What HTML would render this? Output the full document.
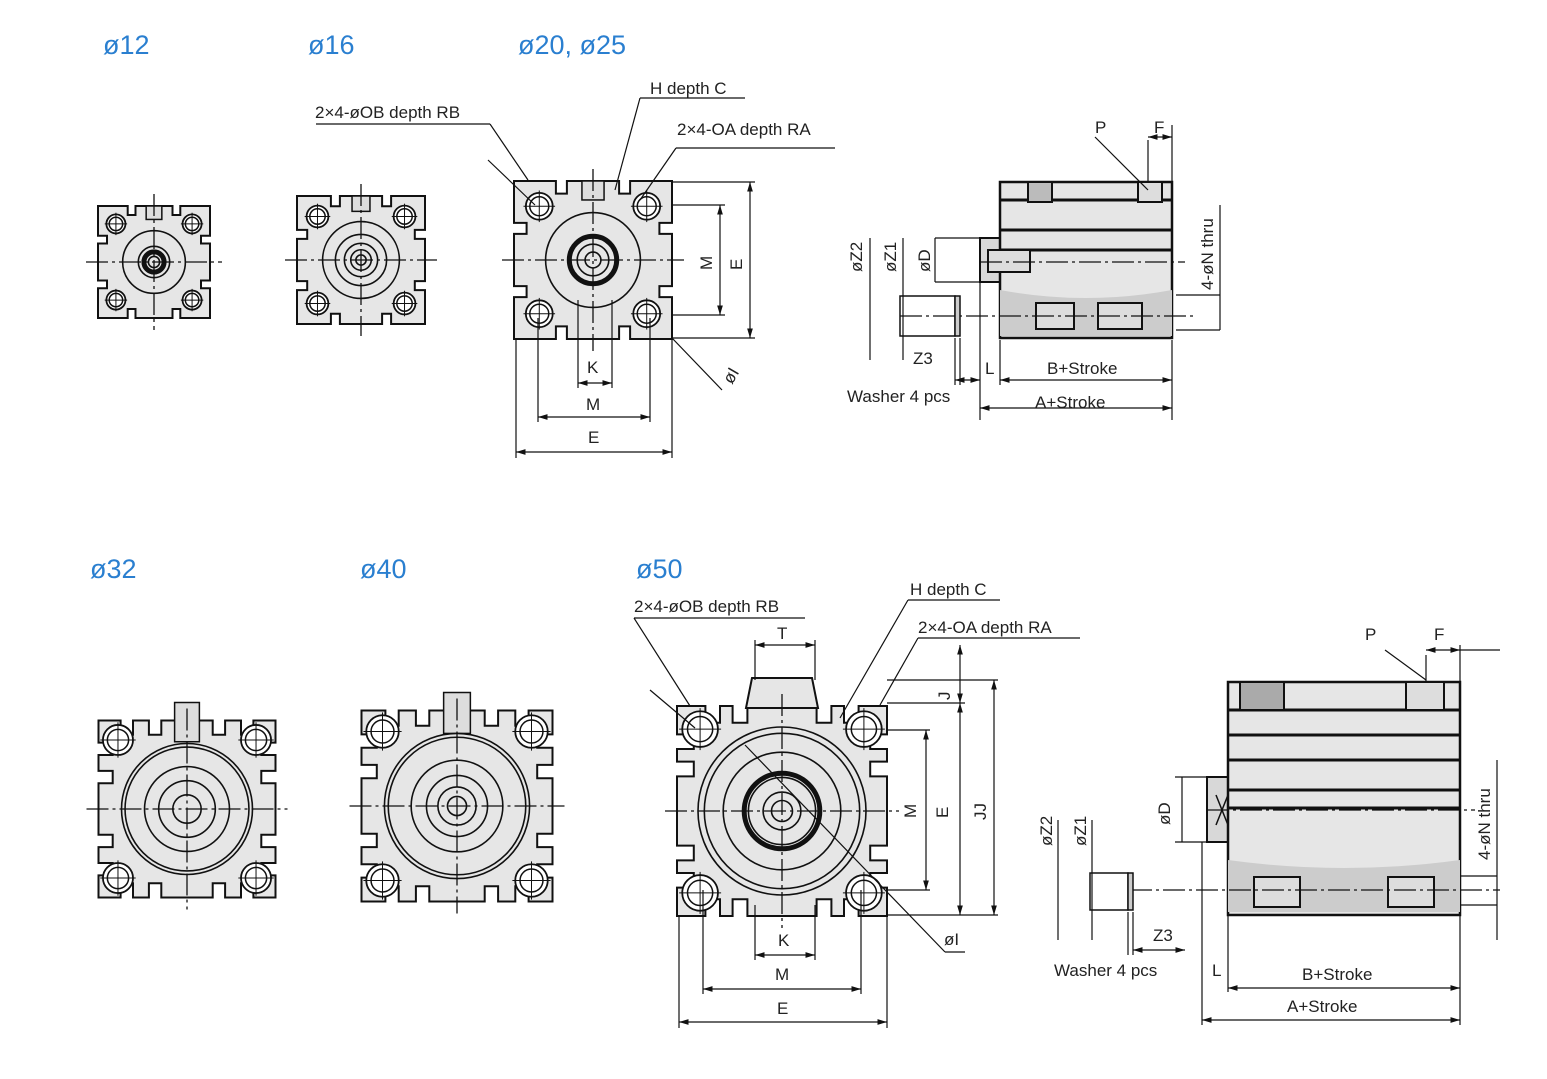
<!DOCTYPE html>
<html><head><meta charset="utf-8">
<style>
html,body{margin:0;padding:0;background:#fff;}
svg{display:block;}
text{font-family:"Liberation Sans",Arial,sans-serif;fill:#222;}
.h{fill:#2a7fd0;font-size:27px;}
.l{font-size:17px;}
</style></head><body>
<svg id="s" width="1547" height="1079" viewBox="0 0 1547 1079" xmlns="http://www.w3.org/2000/svg">
<defs>
<marker id="a" viewBox="0 0 10 10" refX="10" refY="5" markerWidth="8" markerHeight="8" orient="auto-start-reverse"><path d="M0,2 L10,5 L0,8z" fill="#111"/></marker>
</defs>
<g id="g"></g>
<text class="h" x="103" y="54">ø12</text>
<text class="h" x="308" y="54">ø16</text>
<text class="h" x="518" y="54">ø20, ø25</text>
<text class="h" x="90" y="578">ø32</text>
<text class="h" x="360" y="578">ø40</text>
<text class="h" x="636" y="578">ø50</text>
<text class="l" x="315" y="118">2×4-øOB depth RB</text>
<text class="l" x="650" y="94">H depth C</text>
<text class="l" x="677" y="135">2×4-OA depth RA</text>
<text class="l" x="587" y="373">K</text>
<text class="l" x="586" y="410">M</text>
<text class="l" x="588" y="443">E</text>
<text class="l" x="1095" y="133">P</text>
<text class="l" x="1154" y="133">F</text>
<text class="l" x="1047" y="374">B+Stroke</text>
<text class="l" x="1035" y="408">A+Stroke</text>
<text class="l" x="847" y="402">Washer 4 pcs</text>
<text class="l" x="913" y="364">Z3</text>
<text class="l" x="985" y="374">L</text>
<text class="l" x="634" y="612">2×4-øOB depth RB</text>
<text class="l" x="910" y="595">H depth C</text>
<text class="l" x="918" y="633">2×4-OA depth RA</text>
<text class="l" x="777" y="639">T</text>
<text class="l" x="778" y="946">K</text>
<text class="l" x="775" y="980">M</text>
<text class="l" x="777" y="1014">E</text>
<text class="l" x="944" y="945">øI</text>
<text class="l" x="1365" y="640">P</text>
<text class="l" x="1434" y="640">F</text>
<text class="l" x="1302" y="980">B+Stroke</text>
<text class="l" x="1287" y="1012">A+Stroke</text>
<text class="l" x="1054" y="976">Washer 4 pcs</text>
<text class="l" x="1153" y="941">Z3</text>
<text class="l" x="1212" y="976">L</text>
<g class="l" font-size="16">
<text transform="translate(712,270) rotate(-90)">M</text>
<text transform="translate(742,270) rotate(-90)">E</text>
<text transform="translate(732,385) rotate(-60)">øI</text>
<text transform="translate(862,272) rotate(-90)">øZ2</text>
<text transform="translate(896,272) rotate(-90)">øZ1</text>
<text transform="translate(930,272) rotate(-90)">øD</text>
<text transform="translate(1213,290) rotate(-90)">4-øN thru</text>
<text transform="translate(916,818) rotate(-90)">M</text>
<text transform="translate(948,818) rotate(-90)">E</text>
<text transform="translate(986,820) rotate(-90)">JJ</text>
<text transform="translate(950,700) rotate(-90)">J</text>
<text transform="translate(1052,846) rotate(-90)">øZ2</text>
<text transform="translate(1086,846) rotate(-90)">øZ1</text>
<text transform="translate(1170,825) rotate(-90)">øD</text>
<text transform="translate(1490,860) rotate(-90)">4-øN thru</text>
</g>
</svg>
<script>
const g=document.getElementById('g');let o='';
const L=(x1,y1,x2,y2,w,extra)=>{o+=`<line x1="${x1}" y1="${y1}" x2="${x2}" y2="${y2}" stroke="#111" stroke-width="${w||1.2}" ${extra||''}/>`};
const C=(x,y,r,f,w)=>{o+=`<circle cx="${x}" cy="${y}" r="${r}" fill="${f||'none'}" stroke="#111" stroke-width="${w||1.5}"/>`};
const R=(x,y,W,H,f,w)=>{o+=`<rect x="${x}" y="${y}" width="${W}" height="${H}" fill="${f||'none'}" stroke="#111" stroke-width="${w||1.5}"/>`};
const D=(x1,y1,x2,y2)=>{o+=`<line x1="${x1}" y1="${y1}" x2="${x2}" y2="${y2}" stroke="#111" stroke-width="1.2" marker-start="url(#a)" marker-end="url(#a)"/>`};
const CL=(x1,y1,x2,y2)=>L(x1,y1,x2,y2,1.3,'stroke-dasharray="22,4,3,4"');
function ev(cx,cy,S,opt){
 opt=opt||{};const h=S/2,n=opt.n||[0.2],w=0.07*S,d=0.08*S;
 let pts=[[-h,-h]];
 n.slice().sort((a,b)=>a-b);
 const offs=[];n.forEach(v=>{offs.push(-v);offs.push(v)});offs.sort((a,b)=>a-b);
 offs.forEach(v=>{const c=v*S;pts.push([c-w/2,-h],[c-w/2,-h+d],[c+w/2,-h+d],[c+w/2,-h]);});
 let all=[];
 for(let k=0;k<4;k++){pts.forEach(p=>{let [x,y]=p;for(let j=0;j<k;j++){[x,y]=[-y,x];}all.push([x,y]);});}
 o+=`<path d="M${all.map(p=>(cx+p[0]).toFixed(1)+','+(cy+p[1]).toFixed(1)).join(' L')}Z" fill="#e6e6e6" stroke="#111" stroke-width="2"/>`;
 if(opt.boss){const b=opt.boss;o+=`<path d="M${cx-b[0]},${cy-h+2} L${cx-b[0]+6},${cy-h-b[1]} L${cx+b[0]-6},${cy-h-b[1]} L${cx+b[0]},${cy-h+2}Z" fill="#e6e6e6" stroke="#111" stroke-width="2"/>`;}
 if(opt.port){R(cx-S*0.07,cy-h-(opt.portUp||0),S*0.14,S*0.12+(opt.portUp||0),'#ddd',1.5);}
 const c=opt.corner||0.34;
 [[-1,-1],[1,-1],[-1,1],[1,1]].forEach(([sx,sy])=>{const x=cx+sx*c*S,y=cy+sy*c*S;C(x,y,S*0.085,'#fff',1.8);C(x,y,S*0.06,'#fff',1.5);L(x-S*0.1,y,x+S*0.1,y,1);L(x,y-S*0.1,x,y+S*0.1,1);});
 (opt.rings||[0.3,0.2,0.12,0.06]).forEach((r,i)=>C(cx,cy,r*S,i==0?'#e6e6e6':'none',opt.bold==i?5:1.6));
 CL(cx-h-12,cy,cx+h+12,cy);CL(cx,cy-h-12,cx,cy+h+12);
}
// row 1
ev(154,262,112,{port:1,rings:[0.28,0.14,0.09,0.05],bold:2});
ev(361,260,128,{port:1,rings:[0.3,0.2,0.13,0.08,0.04]});
ev(593,260,158,{port:1,portUp:0,rings:[0.3,0.15,0.1,0.05],bold:1});
// row 2
ev(187,809,177,{n:[0.18,0.34],corner:0.39,port:1,portUp:18,rings:[0.37,0.35,0.24,0.16,0.08]});
ev(457,806,191,{n:[0.18,0.34],corner:0.39,port:1,portUp:18,rings:[0.38,0.36,0.24,0.16,0.1,0.05]});
ev(782,811,210,{n:[0.2,0.33],corner:0.39,boss:[36,28],rings:[0.4,0.37,0.28,0.18,0.16,0.09,0.05],bold:3});
// side view 1
R(980,238,20,44,'#d8d8d8',2);
o+=`<rect x="1000" y="182" width="172" height="156" fill="#e6e6e6" stroke="#111" stroke-width="2.5"/>`;
[200,230,250].forEach(y=>L(1000,y,1172,y,3,'stroke="#bbb"'));
o+=`<path d="M1000,290 Q1086,306 1172,290 L1172,336 L1000,336Z" fill="#ccc"/>`;
R(1036,303,38,26,'#ddd',2);R(1098,303,44,26,'#ddd',2);
R(1028,182,24,20,'#bbb',2);R(1138,182,24,20,'#ddd',2);
R(988,250,42,22,'#ddd',2);
CL(980,262,1185,262);CL(900,316,1195,316);
R(900,296,55,40,'none',1.5);R(955,296,5,40,'#ccc',1.5);
L(1172,125,1172,182);L(1148,140,1148,182);D(1148,137,1172,137);L(1095,137,1148,190);
D(980,408,1172,408);D(1000,380,1172,380);L(980,282,980,420);L(1172,340,1172,420);L(1000,340,1000,385);
L(1220,205,1220,330);L(1176,295,1220,295);L(1176,330,1220,330);
L(870,238,870,360);L(903,238,903,360);L(935,238,935,282);L(935,238,980,238);L(935,282,980,282);
L(955,338,955,385);L(960,338,960,385);D(955,380,980,380);
// dims ø20
D(720,205,720,315);D(750,182,750,338);L(672,182,755,182);L(672,338,755,338);L(672,205,725,205);L(672,315,725,315);
D(538,417,650,417);D(516,452,672,452);D(578,383,612,383);
L(516,340,516,458);L(672,340,672,458);L(538,318,538,422);L(650,318,650,422);L(578,300,578,388);L(612,300,612,388);
L(488,160,535,205);L(676,148,835,148);L(676,148,640,200);L(640,98,745,98);L(640,98,615,190);L(316,124,490,124);L(490,124,528,180);L(672,338,722,390);
// side view 2
R(1207,777,21,65,'#d8d8d8',2);
o+=`<rect x="1228" y="682" width="232" height="233" fill="#e6e6e6" stroke="#111" stroke-width="2.5"/>`;
[710,735,760,790,808].forEach(y=>L(1228,y,1460,y,3,'stroke="#bbb"'));
o+=`<path d="M1228,860 Q1344,876 1460,860 L1460,912 L1228,912Z" fill="#ccc"/>`;
R(1254,877,46,30,'#ddd',2);R(1388,877,46,30,'#ddd',2);
R(1240,682,44,28,'#aaa',2);R(1406,682,38,28,'#ddd',2);
L(1216,795,1228,825,1.5);L(1228,795,1216,825,1.5);
CL(1207,810,1475,810);CL(1130,890,1500,890);
R(1090,873,38,37,'none',1.5);R(1128,873,5,37,'#ccc',1.5);
L(1460,645,1460,682);L(1426,655,1426,682);D(1426,650,1460,650);L(1385,650,1426,680);L(1460,650,1500,650);
D(1202,1020,1460,1020);D(1228,988,1460,988);L(1202,842,1202,1025);L(1460,915,1460,1025);L(1228,915,1228,992);
L(1497,760,1497,940);L(1460,876,1497,876);L(1460,905,1497,905);
L(1058,820,1058,940);L(1092,820,1092,940);L(1182,777,1182,842);L(1175,777,1207,777);L(1175,842,1207,842);
L(1128,912,1128,955);L(1133,912,1133,955);D(1133,950,1185,950);
// dims ø50
D(926,730,926,890);D(960,703,960,915);D(994,680,994,915);D(960,645,960,703);
L(887,680,998,680);L(887,703,965,703);L(887,730,930,730);L(887,890,930,890);L(887,915,998,915);
D(703,989,861,989);D(679,1022,887,1022);D(755,955,815,955);D(755,645,815,645);
L(679,915,679,1028);L(887,915,887,1028);L(703,890,703,994);L(861,890,861,994);L(755,905,755,960);L(815,905,815,960);L(755,640,755,680);L(815,640,815,680);
L(634,618,805,618);L(634,618,690,706);L(650,690,695,728);L(908,600,1000,600);L(908,600,840,718);L(918,638,1080,638);L(918,638,880,705);
L(745,745,945,952);L(945,952,965,952);
g.innerHTML=o;
</script>
</body></html>
